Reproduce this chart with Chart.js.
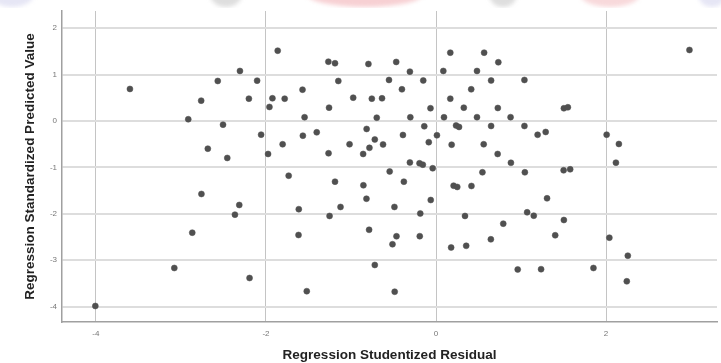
<!DOCTYPE html>
<html>
<head>
<meta charset="utf-8">
<script src="https://cdn.jsdelivr.net/npm/chart.js@4/dist/chart.umd.min.js"></script>
<style>
  html, body { margin: 0; padding: 0; background: #fff; }
  canvas { display: block; }
</style>
</head>
<body>
<canvas id="scatter" width="721" height="363"></canvas>
<script>
// values, one entry per case
const residuals = [
  -1.862, -2.306, -2.567, -2.104, -3.600, -2.762, -2.201, -1.924, -1.780, -1.959,
  -2.914, -2.505, -2.057, -1.804, -2.684, -1.975, -2.455, -1.733, -2.759, -2.314,
  -2.365, -2.867, -3.078, -2.193, -4.007, -1.266, -1.188, -0.795, -0.468, -0.307,
  -1.149, -0.553, -0.150, -1.570, -0.401, -0.974, -0.755, -0.635, -1.258, -1.546,
  -0.697, -0.302, -0.138, -0.816, -1.566, -1.403, -0.389, -0.720, -1.017, -0.623,
  -0.783, -1.264, -0.857, -0.307, -0.194, -0.155, -0.039, -0.545, 0.168, 0.566,
  0.733, 0.086, 0.482, 0.648, 1.040, 0.414, 0.168, -0.065, 0.327, 0.727,
  1.504, 1.551, 0.094, 0.482, 0.877, 0.236, 0.271, 0.648, 1.040, 0.011,
  1.195, 1.290, -0.085, 0.184, 0.561, 0.725, 0.881, 0.546, 1.045, 1.501,
  1.578, 2.981, 2.007, 2.151, 2.116, 1.306, 1.072, 1.150, 0.791, 1.504,
  0.645, 1.402, 2.039, 2.256, 0.961, 1.236, 1.852, 2.244, 0.207, 0.250,
  0.417, -0.062, 0.341, 0.178, 0.355, -1.188, -0.854, -0.378, -0.818, -1.614,
  -1.123, -1.252, -0.489, -0.185, -1.617, -0.787, -0.465, -0.512, -0.191, -0.720,
  -1.520, -0.486
]
const predicted = [
  1.515, 1.078, 0.862, 0.869, 0.690, 0.438, 0.481, 0.489, 0.481, 0.302,
  0.037, -0.080, -0.295, -0.502, -0.597, -0.711, -0.797, -1.179, -1.573, -1.810,
  -2.019, -2.407, -3.168, -3.384, -3.987, 1.278, 1.244, 1.228, 1.272, 1.063,
  0.862, 0.884, 0.873, 0.675, 0.683, 0.502, 0.481, 0.489, 0.287, 0.080,
  0.071, 0.080, -0.114, -0.172, -0.317, -0.244, -0.302, -0.399, -0.502, -0.506,
  -0.578, -0.696, -0.711, -0.894, -0.912, -0.942, -1.019, -1.088, 1.472, 1.472,
  1.265, 1.078, 1.078, 0.873, 0.884, 0.683, 0.481, 0.274, 0.287, 0.280,
  0.274, 0.295, 0.080, 0.082, 0.082, -0.097, -0.129, -0.108, -0.108, -0.308,
  -0.297, -0.237, -0.457, -0.511, -0.502, -0.711, -0.901, -1.106, -1.106, -1.063,
  -1.041, 1.530, -0.295, -0.496, -0.899, -1.666, -1.968, -2.041, -2.213, -2.134,
  -2.550, -2.463, -2.515, -2.903, -3.200, -3.194, -3.168, -3.455, -1.394, -1.422,
  -1.401, -1.703, -2.047, -2.726, -2.690, -1.308, -1.386, -1.308, -1.675, -1.901,
  -1.853, -2.047, -1.853, -1.994, -2.457, -2.345, -2.485, -2.657, -2.483, -3.103,
  -3.668, -3.679
]
const xTicks = [-4, -2, 0, 2]
const yTicks = [2, 1, 0, -1, -2, -3, -4]

const xTitle = "Regression Studentized Residual"
const yTitle = "Regression Standardized Predicted Value"

const points = residuals.map((x, i) => ({x: x, y: predicted[i]}))

const tickFont = {family: "'Liberation Sans', Arial, sans-serif", size: 8}
const titleFont = {family: "'Liberation Sans', Arial, sans-serif", size: 13.5, weight: "bold"}

// faint remains of a logo cut off along the top edge of the screenshot
const topStrip = {
  id: "topStrip",
  beforeDraw(chart) {
    const c = chart.ctx
    c.save()
    c.beginPath()
    c.rect(0, 0, chart.width, 8)
    c.clip()
    c.filter = "blur(2px)"
    const blob = (x, w, col) => {
      c.fillStyle = col
      c.beginPath()
      c.ellipse(x, -6, w, 13, 0, 0, Math.PI * 2)
      c.fill()
    }
    blob(12, 22, "rgba(205,205,235,0.5)")
    blob(226, 16, "rgba(160,160,160,0.35)")
    blob(365, 58, "rgba(240,170,175,0.55)")
    blob(503, 14, "rgba(160,160,160,0.35)")
    blob(610, 30, "rgba(240,170,175,0.45)")
    blob(712, 14, "rgba(205,205,235,0.5)")
    c.restore()
  }
}

let ctx = document.getElementById("scatter").getContext("2d")
let chart = new Chart(ctx, {
  type: "scatter",
  data: {
    datasets: [{
      data: points,
      backgroundColor: "#505050",
      borderColor: "rgba(80,80,80,0.5)",
      borderWidth: 1,
      pointRadius: 3,
      pointHoverRadius: 3
    }]
  },
  plugins: [topStrip],
  options: {
    responsive: false,
    animation: false,
    layout: {padding: {top: 11, right: 0, bottom: 0, left: 0}},
    plugins: {legend: {display: false}, tooltip: {enabled: false}},
    scales: {
      x: {
        type: "linear",
        min: -4.399,
        max: 3.305,
        afterBuildTicks: (scale) => { scale.ticks = xTicks.map(v => ({value: v})) },
        afterFit: (scale) => { scale.height = 41 },
        grid: {color: "#c4c4c4", lineWidth: 1, drawTicks: false},
        border: {color: "#a0a0a0", width: 1.5},
        ticks: {font: tickFont, color: "#777", padding: 7, callback: (v) => String(v)},
        title: {display: true, text: xTitle, font: titleFont, color: "#222", padding: {top: 0, bottom: 0}}
      },
      y: {
        type: "linear",
        min: -4.332,
        max: 2.370,
        afterBuildTicks: (scale) => { scale.ticks = yTicks.map(v => ({value: v})) },
        afterFit: (scale) => { scale.width = 62 },
        grid: {color: "#dddddd", lineWidth: 2, drawTicks: false},
        border: {color: "#a0a0a0", width: 1.5},
        ticks: {font: tickFont, color: "#777", padding: 5, callback: (v) => String(v)},
        title: {display: true, text: yTitle, font: titleFont, color: "#222", padding: {top: 22, bottom: 0}}
      }
    }
  }
})
</script>
</body>
</html>
